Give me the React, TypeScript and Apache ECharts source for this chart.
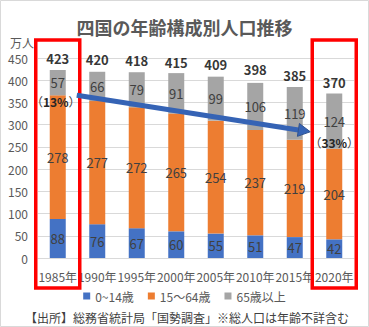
import React, { useEffect, useRef } from "react";
import * as echarts from "echarts";

const categories = ["1985年", "1990年", "1995年", "2000年", "2005年", "2010年", "2015年", "2020年"];
const young = [88, 76, 67, 60, 55, 51, 47, 42];
const working = [278, 277, 272, 265, 254, 237, 219, 204];
const elderly = [57, 66, 79, 91, 99, 106, 119, 124];
const totals = [423, 420, 418, 415, 409, 398, 385, 370];
const seriesNames = ["0~14歳", "15～64歳", "65歳以上"];
const shareFirst = "13%";
const shareLast = "33%";
const yTicks = { min: 0, max: 450, interval: 50 };

const FONT = "'Noto Sans CJK JP', 'Noto Sans', sans-serif";

export default function App() {
  const ref = useRef<HTMLDivElement>(null);
  useEffect(() => {
    if (!ref.current) return;
    const chart = echarts.init(ref.current, null, { renderer: "svg" });
    const labelStyle = { show: true, position: "inside", color: "#404040", fontSize: 13, fontFamily: FONT };
    chart.setOption({
      animation: false,
      textStyle: { fontFamily: FONT },
      title: {
        text: "四国の年齢構成別人口推移",
        left: "center",
        top: 13,
        textStyle: { fontSize: 18, color: "#595959", fontWeight: "bold", fontFamily: FONT },
      },
      grid: { left: 38, right: 15, top: 58, bottom: 69, containLabel: false },
      legend: {
        data: seriesNames,
        top: 285,
        left: "center",
        padding: [5, 5, 5, 5],
        icon: "rect",
        itemWidth: 7,
        itemHeight: 7,
        itemGap: 14,
        textStyle: { fontSize: 12, color: "#595959", fontFamily: FONT },
      },
      xAxis: {
        type: "category",
        data: categories,
        axisLine: { lineStyle: { color: "#d9d9d9" } },
        axisTick: { show: false },
        axisLabel: { color: "#595959", fontSize: 12, margin: 12, interval: 0, fontFamily: FONT },
      },
      yAxis: {
        type: "value",
        min: yTicks.min,
        max: yTicks.max,
        interval: yTicks.interval,
        axisLine: { show: false },
        axisTick: { show: false },
        splitLine: { lineStyle: { color: "#d9d9d9" } },
        axisLabel: { color: "#595959", fontSize: 12, margin: 10, fontFamily: FONT },
      },
      series: [
        { name: seriesNames[0], type: "bar", stack: "pop", barWidth: 16, data: young, itemStyle: { color: "#4472c4" }, label: labelStyle },
        { name: seriesNames[1], type: "bar", stack: "pop", barWidth: 16, data: working, itemStyle: { color: "#ed7d31" }, label: labelStyle },
        { name: seriesNames[2], type: "bar", stack: "pop", barWidth: 16, data: elderly, itemStyle: { color: "#a5a5a5" }, label: labelStyle },
        {
          name: "総数",
          type: "scatter",
          data: totals,
          symbolSize: 0,
          silent: true,
          label: { show: true, position: "top", distance: 5, color: "#000", fontWeight: "bold", fontSize: 13, fontFamily: FONT },
          z: 5,
        },
      ],
    });

    const p = (i: number, v: number) => chart.convertToPixel({ gridIndex: 0 }, [i, v]) as number[];
    const last = categories.length - 1;
    const a0 = p(0, 366);
    const a1 = p(last, 284);
    const sx = a0[0] + 19;
    const ex = a1[0] - 24;
    const sy = a0[1];
    const ey = a1[1];
    const ang = Math.atan2(ey - sy, ex - sx);
    const hl = 12, hw = 6.5;
    const bx = ex - hl * Math.cos(ang), by = ey - hl * Math.sin(ang);
    const nx = -Math.sin(ang), ny = Math.cos(ang);
    const top0 = p(0, 450)[1] - 18;
    const bot0 = p(0, 0)[1] + 30;
    const box = (i: number) => {
      const c = p(i, 0)[0];
      return { type: "rect", shape: { x: c - 22, y: top0, width: 44, height: bot0 - top0 }, style: { fill: "none", stroke: "#ff0000", lineWidth: 3.5 }, z: 10 };
    };
    const pct0 = p(0, 353);
    const pct1 = p(last, 260);
    const pctStyle = (s: string) => ({
      text: "{p|（}{b|" + s + "}{p|）}",
      align: "center",
      verticalAlign: "middle",
      lineHeight: 14,
      rich: {
        p: { fontSize: 12, fill: "#404040", fontFamily: FONT, lineHeight: 14 },
        b: { fontSize: 12, fontWeight: "bold", fill: "#262626", fontFamily: FONT, lineHeight: 14 },
      },
    });
    chart.setOption({
      graphic: [
        { type: "rect", shape: { x: 0.5, y: 0.5, width: 368, height: 326 }, style: { fill: "none", stroke: "#d9d9d9", lineWidth: 1 } },
        { type: "text", x: 10, y: 42, style: { text: "万人", fontSize: 12, fill: "#595959", fontFamily: FONT, verticalAlign: "middle" } },
        box(0),
        box(last),
        {
          type: "line",
          shape: { x1: sx, y1: sy, x2: bx, y2: by },
          style: { stroke: "#3563b5", lineWidth: 5 },
          z: 11,
        },
        {
          type: "polygon",
          shape: { points: [[ex, ey], [bx + nx * hw, by + ny * hw], [bx - nx * hw, by - ny * hw]] },
          style: { fill: "#3563b5", stroke: "#2f528f", lineWidth: 1 },
          z: 11,
        },
        { type: "text", x: pct0[0] - 2, y: pct0[1], style: pctStyle(shareFirst), z: 12 },
        { type: "text", x: pct1[0], y: pct1[1], style: pctStyle(shareLast), z: 12 },
        { type: "text", x: 25, y: 317, style: { text: "【出所】総務省統計局「国勢調査」※総人口は年齢不詳含む", fontSize: 12, fill: "#404040", fontFamily: FONT, verticalAlign: "middle" } },
      ],
    });
    return () => chart.dispose();
  }, []);
  return <div ref={ref} style={{ position: "absolute", left: 0, top: 0, width: 369, height: 327 }} />;
}
